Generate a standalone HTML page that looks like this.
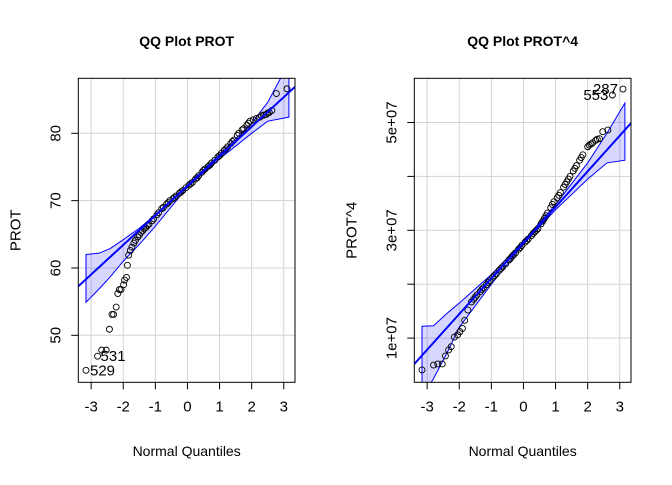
<!DOCTYPE html>
<html><head><meta charset="utf-8"><style>
body{margin:0;background:#fff;}
svg text{font-family:"Liberation Sans",sans-serif;fill:#000;}
</style></head><body>
<svg id="c" width="672" height="480" xmlns="http://www.w3.org/2000/svg"></svg>
<script>
// Left panel data (normal quantile, PROT) - tails
const protQ=[-3.16,-2.8,-2.67,-2.53,-2.43,-2.35,-2.3,-2.22,-2.17,-2.12,-2.07,-1.99,-1.96,-1.9,-1.87,-1.83,-1.78,-1.73,-1.67,-1.62,2.63,2.77,3.1,2.37,2.5];
const protV=[44.8,46.9,47.8,47.8,50.9,53.1,53.1,54.2,56.2,56.8,56.8,57.5,58.2,58.6,60.4,61.9,62.6,63.1,63.7,64.1,83.4,85.9,86.6,82.7,83.0];
// Left panel - dense body
const protQ2=[-1.55,-1.5,-1.45,-1.4,-1.35,-1.3,-1.25,-1.2,-1.1,-1.05,-0.95,-0.9,-0.8,-0.75,-0.65,-0.6,-0.55,-0.45,-0.4,-0.35,-0.25,-0.2,-0.15,-0.05,0.05,0.1,0.15,0.25,0.3,0.35,0.45,0.5,0.55,0.65,0.7,0.75,0.85,0.95,1.0,1.05,1.15,1.2,1.25,1.35,1.4,1.45,1.55,1.6,1.7,1.75,1.85,1.9,1.95,2.05,2.15,2.25,2.3,2.45,2.55];
const protV2=[64.6,64.9,65.3,65.5,65.8,66.0,66.3,66.5,67.0,67.3,67.9,68.2,68.8,69.0,69.5,69.7,70.0,70.3,70.5,70.7,71.1,71.3,71.5,71.9,72.3,72.5,72.7,73.2,73.4,73.7,74.2,74.5,74.7,75.1,75.3,75.6,76.0,76.5,76.7,77.0,77.5,77.7,78.0,78.5,78.8,79.0,79.7,80.0,80.5,80.7,81.2,81.5,81.8,82.0,82.2,82.4,82.6,82.8,83.1];
const protLine=[72.2,4.39];
const protBandQ=[-3.16,-2.75,-2.4,-2.0,-1.5,-1.0,0,1.0,2.0,2.5,3.16];
const protBandUp=[62.0,62.2,62.9,64.2,65.9,67.9,72.3,76.9,81.5,84.6,90.5];
const protBandLo=[54.9,56.9,58.7,61.0,63.5,66.2,72.0,76.2,80.0,81.8,82.4];
// Right panel data (normal quantile, PROT^4 in 1e7) - tails
const p4Q=[-3.16,-2.8,-2.67,-2.53,-2.43,-2.33,-2.25,-2.15,-2.05,-1.98,-1.9,-1.83,-1.73,-1.62,2.37,2.47,2.63,2.77,3.1];
const p4V=[0.41,0.50,0.52,0.52,0.67,0.78,0.84,1.02,1.06,1.12,1.18,1.33,1.52,1.67,4.70,4.83,4.86,5.51,5.62];
// Right panel - dense body
const p4Q2=[-1.55,-1.5,-1.45,-1.35,-1.3,-1.25,-1.15,-1.1,-1.05,-0.95,-0.9,-0.85,-0.75,-0.7,-0.65,-0.55,-0.45,-0.4,-0.35,-0.3,-0.25,-0.15,-0.1,-0.05,0.05,0.1,0.15,0.25,0.3,0.35,0.4,0.45,0.55,0.6,0.65,0.7,0.75,0.85,0.9,0.95,1.05,1.1,1.15,1.25,1.3,1.35,1.4,1.45,1.55,1.6,1.65,1.75,1.8,1.85,2.0,2.05,2.1,2.15,2.25,2.3];
const p4V2=[1.72,1.76,1.8,1.86,1.9,1.93,1.99,2.03,2.06,2.13,2.16,2.19,2.26,2.29,2.32,2.38,2.45,2.48,2.52,2.55,2.58,2.65,2.68,2.72,2.78,2.81,2.84,2.9,2.94,2.97,3.0,3.03,3.12,3.17,3.22,3.27,3.32,3.42,3.48,3.53,3.6,3.65,3.7,3.8,3.85,3.9,3.95,4.0,4.1,4.15,4.2,4.3,4.35,4.4,4.55,4.58,4.6,4.62,4.67,4.69];
const p4Line=[2.77,0.662];
const p4BandQ=[-3.16,-2.8,-2.4,-2.0,-1.0,0,1.0,2.0,2.6,3.16];
const p4BandUp=[1.22,1.23,1.45,1.65,2.18,2.8,3.48,4.25,4.8,5.36];
const p4BandLo=[-0.1,0.25,0.7,1.2,2.0,2.74,3.38,3.95,4.25,4.3];
const xTicks=[-3,-2,-1,0,1,2,3];

const svg=document.getElementById('c');
const NS='http://www.w3.org/2000/svg';
function mk(t,a,p){const e=document.createElementNS(NS,t);for(const k in a)e.setAttribute(k,a[k]);(p||svg).appendChild(e);return e;}

function panel(o){
  const g=mk('g',{});
  
  
  const L=o.x0,R=o.x1,T=78.3,B=382.3;
  const sx=q=>L+(q-(-3.4))/(3.35-(-3.4))*(R-L);
  const sy=v=>B-(v-o.ymin)/(o.ymax-o.ymin)*(B-T);
  const cid='clip'+o.name;
  const cp=mk('clipPath',{id:cid},g);mk('rect',{x:L,y:T,width:R-L,height:B-T},cp);
  xTicks.forEach(t=>{const l=mk('line',{x1:sx(t),x2:sx(t),y1:T,y2:B,stroke:'#d3d3d3','stroke-width':1},g);
    });
  o.gridY.forEach(t=>{const l=mk('line',{x1:L,x2:R,y1:sy(t),y2:sy(t),stroke:'#d3d3d3','stroke-width':1},g);
    });
  const cg=mk('g',{'clip-path':'url(#'+cid+')'},g);
  let d='';
  o.bq.forEach((q,i)=>{d+=(i?'L':'M')+sx(q)+' '+sy(o.bu[i]);});
  for(let i=o.bq.length-1;i>=0;i--)d+='L'+sx(o.bq[i])+' '+sy(o.bl[i]);
  d+='Z';
  const band=mk('path',{d:d,fill:'rgba(0,0,255,0.16)',stroke:'#0000ff','stroke-width':1},cg);
  
  o.q.forEach((q,i)=>{const c=mk('circle',{cx:sx(q),cy:sy(o.v[i]),r:3,fill:'none',stroke:'#000','stroke-width':0.9},cg);
    });
  const ln=mk('line',{x1:sx(-3.4),y1:sy(o.line[0]+o.line[1]*-3.4),x2:sx(3.35),y2:sy(o.line[0]+o.line[1]*3.35),stroke:'#0000ff','stroke-width':2},cg);
  
  mk('rect',{x:L,y:T,width:R-L,height:B-T,fill:'none',stroke:'#000','stroke-width':1},g);
  xTicks.forEach(t=>{mk('line',{x1:sx(t),x2:sx(t),y1:B,y2:B+7,stroke:'#000'},g);
    const tx=mk('text',{x:sx(t),y:B+29,'text-anchor':'middle','font-size':15},g);tx.textContent=t<0?'-'+(-t):t;
    });
  o.gridY.forEach(t=>{mk('line',{x1:L,x2:L-7,y1:sy(t),y2:sy(t),stroke:'#000'},g);});
  o.yLab.forEach((t,i)=>{const y=sy(o.yLabV[i]);const tx=mk('text',{x:L-18,y:y,'text-anchor':'middle','font-size':15,transform:'rotate(-90 '+(L-18)+' '+y+')'},g);tx.textContent=t;
    });
  const ti=mk('text',{x:(L+R)/2,y:46,'text-anchor':'middle','font-size':14,'font-weight':'bold'},g);ti.textContent=o.title;
  
  const xl=mk('text',{x:(L+R)/2,y:456,'text-anchor':'middle','font-size':14},g);xl.textContent='Normal Quantiles';
  
  const yx=L-58,yy=(T+B)/2;
  const yl=mk('text',{x:yx,y:yy,'text-anchor':'middle','font-size':15,transform:'rotate(-90 '+yx+' '+yy+')'},g);yl.textContent=o.ytitle;
  
  o.labels.forEach(lb=>{const tx=mk('text',{x:sx(lb[1])+lb[3],y:sy(lb[2])+5,'font-size':15,'text-anchor':lb[4]},g);tx.textContent=lb[0];
    });
}
panel({name:'prot-panel',x0:78.3,x1:295,ymin:43.02,ymax:88.17,q:protQ.concat(protQ2),v:protV.concat(protV2),line:protLine,bq:protBandQ,bu:protBandUp,bl:protBandLo,
  gridY:[50,60,70,80],yLab:['50','60','70','80'],yLabV:[50,60,70,80],title:'QQ Plot PROT',ytitle:'PROT',
  labels:[['529',-3.16,44.8,4,'start'],['531',-2.8,46.9,3,'start']]});
panel({name:'prot4-panel',x0:414.3,x1:631,ymin:0.18,ymax:5.82,q:p4Q.concat(p4Q2),v:p4V.concat(p4V2),line:p4Line,bq:p4BandQ,bu:p4BandUp,bl:p4BandLo,
  gridY:[1,2,3,4,5],yLab:['1e+07','3e+07','5e+07'],yLabV:[1,3,5],title:'QQ Plot PROT^4',ytitle:'PROT^4',
  labels:[['287',3.1,5.62,-5,'end'],['553',2.77,5.51,-4,'end']]});
</script>
</body></html>
